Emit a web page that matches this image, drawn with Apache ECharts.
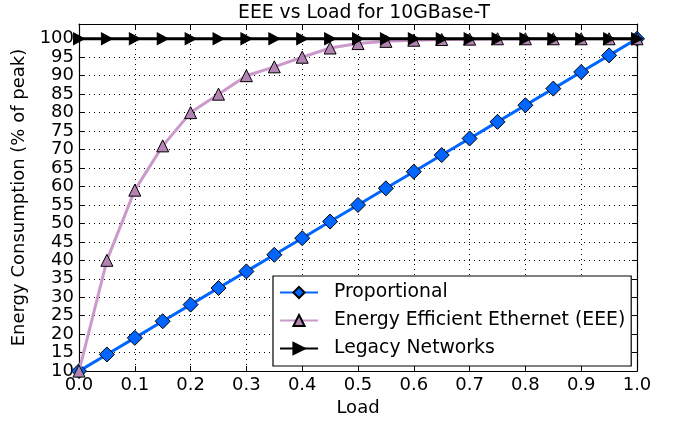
<!DOCTYPE html>
<html>
<head>
<meta charset="utf-8">
<script src="https://cdn.jsdelivr.net/npm/echarts@6/dist/echarts.min.js"></script>
<style>
  html, body { margin: 0; padding: 0; background: #fff; }
  #container { width: 681px; height: 422px; }
</style>
</head>
<body>
<div id="container"></div>
<script>
var loads = [0, 0.05, 0.1, 0.15, 0.2, 0.25, 0.3, 0.35, 0.4, 0.45, 0.5,
  0.55, 0.6, 0.65, 0.7, 0.75, 0.8, 0.85, 0.9, 0.95, 1.0];
var proportional = [10, 14.5, 19, 23.5, 28, 32.5, 37, 41.5, 46, 50.5, 55,
  59.5, 64, 68.5, 73, 77.5, 82, 86.5, 91, 95.5, 100];
var eee = [10, 40, 59, 71, 80, 85, 90, 92.4, 95, 97.5, 98.7,
  99.3, 99.6, 99.8, 99.9, 100, 100, 100, 100, 100, 100];
var legacy = [100, 100, 100, 100, 100, 100, 100, 100, 100, 100, 100,
  100, 100, 100, 100, 100, 100, 100, 100, 100, 100];

function pairs(ys) {
  return loads.map(function(x, i) {
    return [x, ys[i]];
  });
}

var font = 'DejaVu Sans';
var dom = document.getElementById('container');
var myChart = echarts.init(dom);

var tickStyle = { show: true, inside: true, length: 5, lineStyle: { color: '#000', width: 1 } };
var gridLine = { show: true, lineStyle: { color: '#000', width: 1, type: [1, 4] } };
var frame = { show: true, onZero: false, lineStyle: { color: '#000', width: 1.2 } };

var option = {
  animation: false,
  backgroundColor: '#fff',
  textStyle: { fontFamily: font },
  title: {
    text: 'EEE vs Load for 10GBase-T',
    left: 359,
    textAlign: 'center',
    top: -1,
    textStyle: { fontFamily: font, fontSize: 18.8, fontWeight: 'normal', color: '#000' }
  },
  grid: { left: 79, right: 44, top: 24, bottom: 50 },
  legend: {
    orient: 'vertical',
    left: 273,
    top: 276,
    padding: [7, 6, 8, 6],
    itemGap: 9,
    itemWidth: 38,
    itemHeight: 14,
    borderColor: '#000',
    borderWidth: 1.2,
    borderRadius: 0,
    backgroundColor: '#fff',
    textStyle: { fontFamily: font, fontSize: 18.8, color: '#000', padding: [0, 0, 0, 11] },
    data: ['Proportional', 'Energy Efficient Ethernet (EEE)', 'Legacy Networks']
  },
  xAxis: [{
    type: 'value',
    min: 0,
    max: 1,
    interval: 0.1,
    name: 'Load',
    nameLocation: 'middle',
    nameGap: 27,
    nameTextStyle: { fontFamily: font, fontSize: 18, color: '#000' },
    axisLine: frame,
    axisTick: tickStyle,
    axisLabel: {
      color: '#000', fontFamily: font, fontSize: 18, margin: 5,
      formatter: function(v) { return v.toFixed(1); }
    },
    splitLine: gridLine
  }, {
    type: 'value',
    position: 'top',
    min: 0,
    max: 1,
    interval: 0.1,
    axisLine: frame,
    axisTick: tickStyle,
    axisLabel: { show: false },
    splitLine: { show: false }
  }],
  yAxis: [{
    type: 'value',
    min: 10,
    max: 104,
    interval: 5,
    name: 'Energy Consumption (% of peak)',
    nameLocation: 'middle',
    nameGap: 46,
    nameTextStyle: { fontFamily: font, fontSize: 18, color: '#000' },
    axisLine: frame,
    axisTick: tickStyle,
    axisLabel: { color: '#000', fontFamily: font, fontSize: 18, margin: 5, showMaxLabel: false },
    splitLine: gridLine
  }, {
    type: 'value',
    position: 'right',
    min: 10,
    max: 104,
    interval: 5,
    axisLine: frame,
    axisTick: tickStyle,
    axisLabel: { show: false },
    splitLine: { show: false }
  }],
  series: [{
    name: 'Proportional',
    type: 'line',
    data: pairs(proportional),
    symbol: 'diamond',
    symbolSize: 15,
    showAllSymbol: true,
    clip: true,
    lineStyle: { color: '#0066ff', width: 3 },
    itemStyle: { color: '#0066ff', borderColor: '#000', borderWidth: 1 },
    z: 2
  }, {
    name: 'Energy Efficient Ethernet (EEE)',
    type: 'line',
    data: pairs(eee),
    symbol: 'triangle',
    symbolSize: 12,
    showAllSymbol: true,
    clip: true,
    lineStyle: { color: '#cc99cc', width: 3 },
    itemStyle: { color: '#b383b3', borderColor: '#000', borderWidth: 1 },
    z: 3
  }, {
    name: 'Legacy Networks',
    type: 'line',
    data: pairs(legacy),
    symbol: 'triangle',
    symbolRotate: -90,
    symbolSize: [12, 11],
    showAllSymbol: true,
    clip: true,
    lineStyle: { color: '#000', width: 3 },
    itemStyle: { color: '#000', borderColor: '#000', borderWidth: 1 },
    z: 4
  }]
};

myChart.setOption(option);
</script>
</body>
</html>
